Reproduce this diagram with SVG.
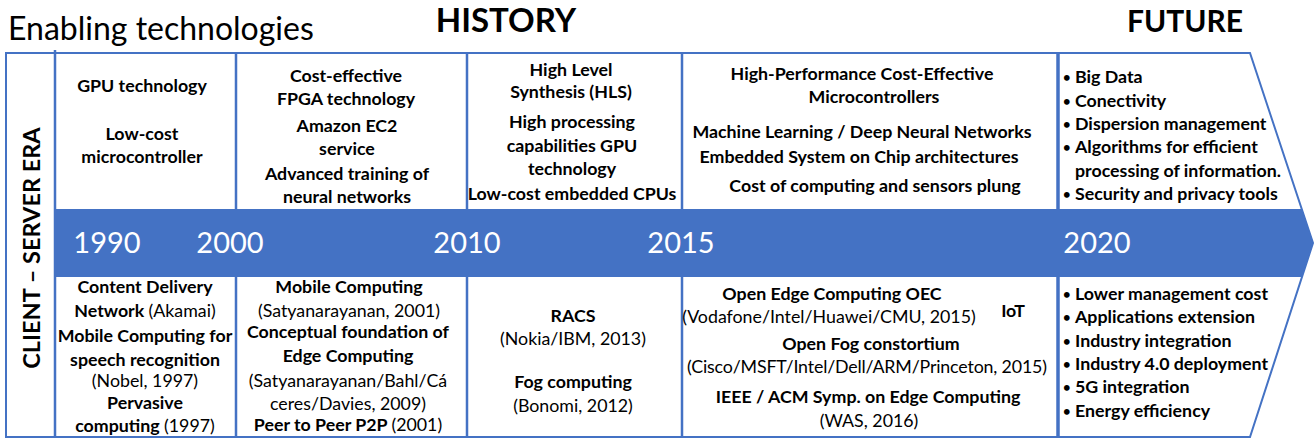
<svg xmlns="http://www.w3.org/2000/svg" width="1315" height="439" viewBox="0 0 1315 439">
  <style>
    text { font-family: Lato, "Liberation Sans", sans-serif; fill: #000; }
    .b { font-size: 17.8px; font-weight: bold; text-anchor: middle; }
    .r { font-weight: normal; }
    .l { font-size: 17.8px; font-weight: bold; }
    .dot { font-size: 13px; font-weight: bold; }
    .yr { font-size: 29px; fill: #fff; text-anchor: middle; }
    .ttl { font-size: 33px; font-weight: bold; text-anchor: middle; }
    .div { stroke: #4472C4; stroke-width: 2.5; }
  </style>

  <!-- titles -->
  <text x="8" y="40" style="font-size:32px">Enabling technologies</text>
  <text class="ttl" x="506" y="32">HISTORY</text>
  <text class="ttl" x="1185" y="32" style="font-size:30px">FUTURE</text>

  <!-- frame in the shape of an arrow -->
  <polygon points="6,53 1250,53 1313,243 1250,437 6,437" fill="#fff" stroke="#4472C4" stroke-width="2"/>

  <!-- column dividers -->
  <g id="dividers">
    <line class="div" x1="55" y1="50" x2="55" y2="437"/>
    <line class="div" x1="236" y1="53" x2="236" y2="437"/>
    <line class="div" x1="467" y1="53" x2="467" y2="437"/>
    <line class="div" x1="682" y1="53" x2="682" y2="437"/>
    <line class="div" x1="1058" y1="53" x2="1058" y2="437" style="stroke-width:3.5"/>
  </g>

  <!-- timeline band -->
  <g id="timeline">
    <polygon points="55,209 1302,209 1313,243 1302,277 55,277" fill="#4472C4"/>
    <text class="yr" x="107" y="253">1990</text>
    <text class="yr" x="230" y="253">2000</text>
    <text class="yr" x="467" y="253">2010</text>
    <text class="yr" x="681" y="253">2015</text>
    <text class="yr" x="1097" y="253">2020</text>
  </g>

  <!-- era label -->
  <g id="era">
    <text transform="translate(39.5,248) rotate(-90)" style="font-size:23.5px;font-weight:bold;text-anchor:middle">CLIENT – SERVER ERA</text>
  </g>

  <!-- 1990 -->
  <g id="tech-1990">
    <text class="b" x="142" y="92">GPU technology</text>
    <text class="b" x="142" y="140">Low-cost</text>
    <text class="b" x="142" y="163">microcontroller</text>
  </g>
  <g id="milestones-1990">
    <text class="b" x="145" y="293">Content Delivery</text>
    <text class="b" x="145" y="317">Network <tspan class="r">(Akamai)</tspan></text>
    <text class="b" x="145" y="342">Mobile Computing for</text>
    <text class="b" x="145" y="366">speech recognition</text>
    <text class="b r" x="145" y="387">(Nobel, 1997)</text>
    <text class="b" x="145" y="409">Pervasive</text>
    <text class="b" x="145" y="432">computing <tspan class="r">(1997)</tspan></text>
  </g>

  <!-- 2000 -->
  <g id="tech-2000">
    <text class="b" x="346" y="82">Cost-effective</text>
    <text class="b" x="346" y="105">FPGA technology</text>
    <text class="b" x="347" y="132">Amazon EC2</text>
    <text class="b" x="347" y="155">service</text>
    <text class="b" x="347" y="180">Advanced training of</text>
    <text class="b" x="347" y="203">neural networks</text>
  </g>
  <g id="milestones-2000">
    <text class="b" x="349" y="293">Mobile Computing</text>
    <text class="b r" x="349" y="317">(Satyanarayanan, 2001)</text>
    <text class="b" x="348" y="338">Conceptual foundation of</text>
    <text class="b" x="348" y="362">Edge Computing</text>
    <text class="b r" x="348" y="387">(Satyanarayanan/Bahl/Cá</text>
    <text class="b r" x="348" y="410">ceres/Davies, 2009)</text>
    <text class="b" x="348" y="431">Peer to Peer P2P <tspan class="r">(2001)</tspan></text>
  </g>

  <!-- 2010 -->
  <g id="tech-2010">
    <text class="b" x="571" y="76">High Level</text>
    <text class="b" x="571" y="98">Synthesis (HLS)</text>
    <text class="b" x="572" y="128">High processing</text>
    <text class="b" x="572" y="152">capabilities GPU</text>
    <text class="b" x="572" y="175">technology</text>
    <text class="b" x="572" y="200">Low-cost embedded CPUs</text>
  </g>
  <g id="milestones-2010">
    <text class="b" x="573" y="322">RACS</text>
    <text class="b r" x="573" y="345">(Nokia/IBM, 2013)</text>
    <text class="b" x="573" y="388">Fog computing</text>
    <text class="b r" x="573" y="412">(Bonomi, 2012)</text>
  </g>

  <!-- 2015 -->
  <g id="tech-2015">
    <text class="b" x="862" y="80">High-Performance Cost-Effective</text>
    <text class="b" x="874" y="103">Microcontrollers</text>
    <text class="b" x="862" y="138">Machine Learning / Deep Neural Networks</text>
    <text class="b" x="859" y="163">Embedded System on Chip architectures</text>
    <text class="b" x="875" y="192">Cost of computing and sensors plung</text>
  </g>
  <g id="milestones-2015">
    <text class="b" x="832" y="300">Open Edge Computing OEC</text>
    <text class="b r" x="829" y="323">(Vodafone/Intel/Huawei/CMU, 2015)</text>
    <text class="b" x="1013" y="317">IoT</text>
    <text class="b" x="871" y="350">Open Fog constortium</text>
    <text class="b r" x="867" y="373" textLength="360" lengthAdjust="spacing">(Cisco/MSFT/Intel/Dell/ARM/Princeton, 2015)</text>
    <text class="b" x="868" y="403">IEEE / ACM Symp. on Edge Computing</text>
    <text class="b r" x="869" y="427">(WAS, 2016)</text>
  </g>

  <!-- 2020 -->
  <g id="challenges-2020">
    <text class="dot" x="1063" y="82">•</text><text class="l" x="1075" y="83">Big Data</text>
    <text class="dot" x="1063" y="106">•</text><text class="l" x="1075" y="107">Conectivity</text>
    <text class="dot" x="1063" y="129">•</text><text class="l" x="1075" y="130">Dispersion management</text>
    <text class="dot" x="1063" y="152">•</text><text class="l" x="1075" y="153">Algorithms for efficient</text>
    <text class="l" x="1075" y="177">processing of information.</text>
    <text class="dot" x="1063" y="199">•</text><text class="l" x="1075" y="200">Security and privacy tools</text>
  </g>
  <g id="goals-2020">
    <text class="dot" x="1063" y="299">•</text><text class="l" x="1075" y="300">Lower management cost</text>
    <text class="dot" x="1063" y="322">•</text><text class="l" x="1075" y="323">Applications extension</text>
    <text class="dot" x="1063" y="346">•</text><text class="l" x="1075" y="347">Industry integration</text>
    <text class="dot" x="1063" y="369">•</text><text class="l" x="1075" y="370">Industry 4.0 deployment</text>
    <text class="dot" x="1063" y="392">•</text><text class="l" x="1075" y="393">5G integration</text>
    <text class="dot" x="1063" y="416">•</text><text class="l" x="1075" y="417">Energy efficiency</text>
  </g>
</svg>
